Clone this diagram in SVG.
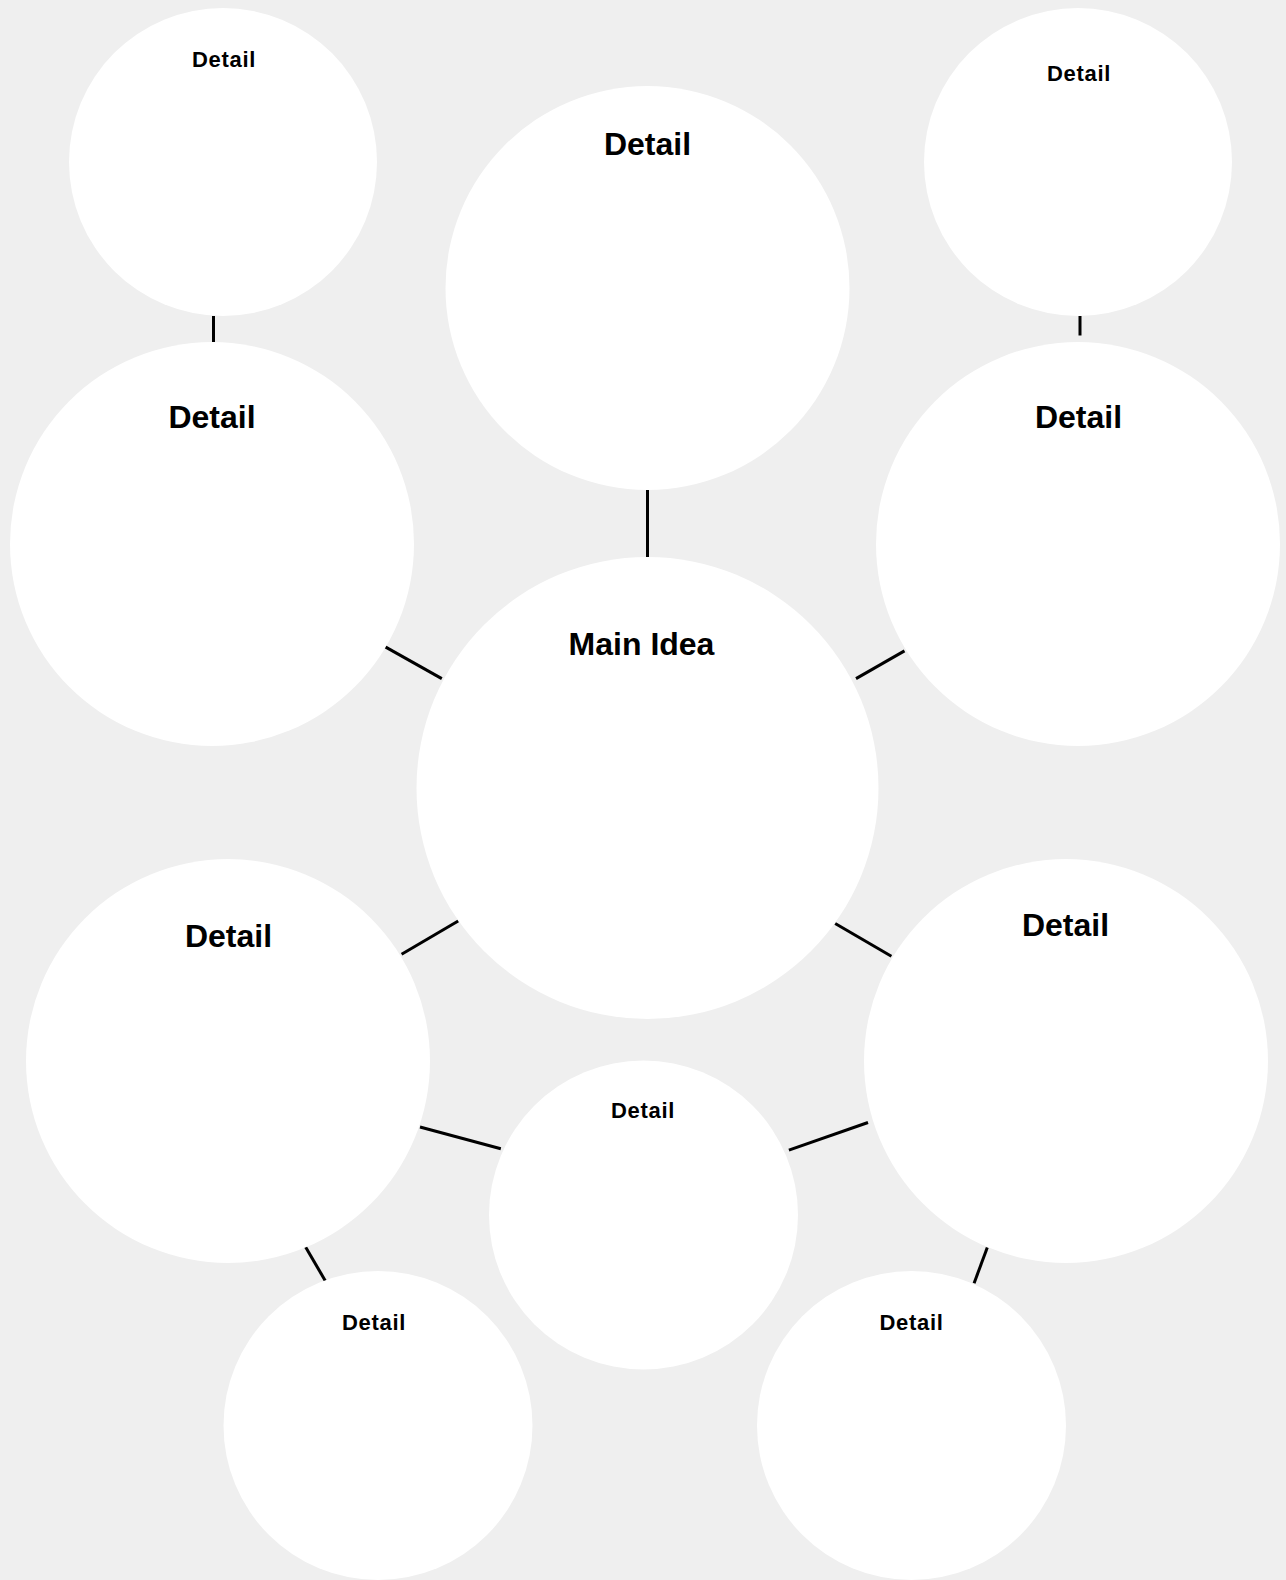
<svg xmlns="http://www.w3.org/2000/svg" width="1286" height="1580" viewBox="0 0 1286 1580">
<style>
.bubble{fill:#ffffff;}
.big{font-family:"Liberation Sans",Arial,sans-serif;font-weight:bold;font-size:32px;fill:#000;text-anchor:middle;}
.small{font-family:"Liberation Sans",Arial,sans-serif;font-weight:bold;font-size:22px;letter-spacing:0.7px;fill:#000;text-anchor:middle;}
.conn line{stroke:#000;stroke-width:3;fill:none;}
</style>
<rect x="0" y="0" width="1286" height="1580" fill="#efefef"/>
<g id="connectors" class="conn">
<line x1="213.5" y1="316" x2="213.5" y2="342"/>
<line x1="647.5" y1="490" x2="647.5" y2="557"/>
<line x1="1080" y1="316" x2="1080" y2="335.5"/>
<line x1="384.4" y1="646.4" x2="441.8" y2="678.6"/>
<line x1="856" y1="678.6" x2="904.5" y2="650.9"/>
<line x1="401.6" y1="954.2" x2="458.2" y2="921"/>
<line x1="835.2" y1="923.5" x2="891.4" y2="956.2"/>
<line x1="420" y1="1127" x2="500.8" y2="1148.7"/>
<line x1="788.9" y1="1150.2" x2="868" y2="1122.5"/>
<line x1="305" y1="1246" x2="325.4" y2="1281"/>
<line x1="987.3" y1="1247.4" x2="974.1" y2="1283.2"/>
</g>
<g id="node-top-left-small">
<circle class="bubble" cx="223" cy="162" r="154"/>
<text class="small" x="224" y="66.5">Detail</text>
</g>
<g id="node-left">
<circle class="bubble" cx="212" cy="544" r="202"/>
<text class="big" x="212" y="427.5">Detail</text>
</g>
<g id="node-top">
<circle class="bubble" cx="647.5" cy="288" r="202"/>
<text class="big" x="647.5" y="155">Detail</text>
</g>
<g id="node-top-right-small">
<circle class="bubble" cx="1078" cy="162" r="154"/>
<text class="small" x="1079" y="81">Detail</text>
</g>
<g id="node-right">
<circle class="bubble" cx="1078" cy="544" r="202"/>
<text class="big" x="1078.5" y="427.5">Detail</text>
</g>
<g id="node-main">
<circle class="bubble" cx="647.5" cy="788" r="231"/>
<text class="big" x="641.5" y="655">Main Idea</text>
</g>
<g id="node-left-bottom">
<circle class="bubble" cx="228" cy="1061" r="202"/>
<text class="big" x="228.5" y="947">Detail</text>
</g>
<g id="node-right-bottom">
<circle class="bubble" cx="1066" cy="1061" r="202"/>
<text class="big" x="1065.5" y="936">Detail</text>
</g>
<g id="node-bottom-center">
<circle class="bubble" cx="643.5" cy="1215" r="154.5"/>
<text class="small" x="643" y="1117.5">Detail</text>
</g>
<g id="node-bottom-left-small">
<circle class="bubble" cx="378" cy="1425.5" r="154.5"/>
<text class="small" x="374" y="1330">Detail</text>
</g>
<g id="node-bottom-right-small">
<circle class="bubble" cx="911.5" cy="1425.5" r="154.5"/>
<text class="small" x="911.5" y="1330">Detail</text>
</g>
</svg>
